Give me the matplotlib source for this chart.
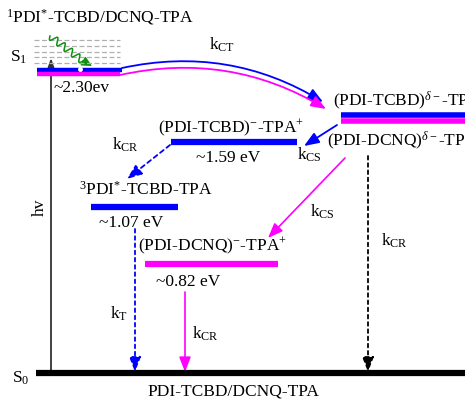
import numpy as np
import matplotlib
matplotlib.use('Agg')
import matplotlib.pyplot as plt
from matplotlib.patches import FancyArrowPatch

plt.rcParams['font.family'] = ['Liberation Serif', 'DejaVu Serif']
plt.rcParams['mathtext.fontset'] = 'custom'
plt.rcParams['mathtext.rm'] = 'Liberation Serif'
plt.rcParams['mathtext.it'] = 'Liberation Serif:italic'

# energies of the states (eV) and their labels
energies = ['~2.30ev', '~1.59 eV', '~1.07 eV', '~0.82 eV']
states = [r'$\mathrm{^{1}PDI^{*}}$-TCBD/DCNQ-TPA',
          r'(PDI-TCBD)$^{-}$-TPA$^{+}$',
          r'$\mathrm{^{3}PDI^{*}}$-TCBD-TPA',
          r'(PDI-DCNQ)$^{-}$-TPA$^{+}$']
cs_states = [r'(PDI-TCBD)$^{\delta-}$-TPA', r'(PDI-DCNQ)$^{\delta-}$-TPA']
ground = 'PDI-TCBD/DCNQ-TPA'

BLUE = '#0000ff'
MAG = '#ff00ff'
FS = 12.5

fig = plt.figure(figsize=(4.65, 3.99), dpi=100)
ax = fig.add_axes([0, 0, 1, 1])
ax.set_xlim(0, 465)
ax.set_ylim(399, 0)
ax.axis('off')


def arrow(p0, p1, color, ls='-', rad=0.0, lw=1.2, hl=9, hw=3.5):
    a = FancyArrowPatch(p0, p1, arrowstyle=f'-|>,head_length={hl},head_width={hw}',
                        connectionstyle=f'arc3,rad={rad}', color=color, lw=lw,
                        linestyle=ls, mutation_scale=1, shrinkA=0, shrinkB=0)
    ax.add_patch(a)


# ground state
ax.hlines(373, 36, 465, color='black', lw=4.5)
ax.text(12, 378, r'S$_0$', fontsize=FS, va='center')
ax.text(233, 391, ground, fontsize=FS, ha='center', va='center')

# S1 with vibrational levels
for y in [40, 46, 52, 57, 63]:
    ax.hlines(y, 34, 120, color='#b0b0b0', lw=0.9, linestyles=(0, (4, 2)))
ax.hlines(69.5, 37, 122, color=BLUE, lw=3.2)
ax.hlines(74, 37, 120, color=MAG, lw=3.2)
ax.plot(80, 68.5, 'o', color='white', ms=3.5, mew=0)
ax.text(10, 57, r'S$_1$', fontsize=FS, va='center')
ax.text(6, 17, states[0], fontsize=FS, va='center')
ax.text(54, 88, energies[0], fontsize=FS, va='center')

# hv excitation
arrow((51, 372), (51, 58), '#333333', lw=1.3, hl=10, hw=3.5)
ax.text(40, 207, 'hv', fontsize=FS, rotation=90, ha='center', va='center')

# green wavy relaxation
t = np.linspace(0, 1, 200)
x0, y0, x1, y1 = 50, 36, 83, 61
dx, dy = x1 - x0, y1 - y0
L = np.hypot(dx, dy)
nx, ny = -dy / L, dx / L
w = 3.5 * np.sin(t * 2 * np.pi * 4.5)
ax.plot(x0 + dx * t + nx * w, y0 + dy * t + ny * w, color='#109010', lw=1.1)
arrow((x1, y1), (92, 66), '#109010', lw=1.0, hl=6, hw=3)

# k_CT curved arrows
arrow((122, 68), (323, 102), BLUE, rad=-0.2, lw=1.3)
arrow((120, 75), (326, 109), MAG, rad=-0.2, lw=1.3)
ax.text(222, 45, r'k$_{\rm CT}$', fontsize=FS, ha='center', va='center')

# charge-separated levels
ax.hlines(115, 341, 465, color=BLUE, lw=4)
ax.hlines(121, 341, 465, color=MAG, lw=4)
ax.text(333, 101, cs_states[0], fontsize=FS, va='center')
ax.text(327, 141, cs_states[1], fontsize=FS, va='center')

# (PDI-TCBD)- level
arrow((337, 125), (304, 146), BLUE, lw=1.3)
ax.text(297, 155, r'k$_{\rm CS}$', fontsize=FS, va='center')
ax.hlines(142, 171, 297, color=BLUE, lw=4.5)
ax.text(231, 128, states[1], fontsize=FS, ha='center', va='center')
ax.text(228, 158, energies[1], fontsize=FS, ha='center', va='center')

# to triplet
arrow((170, 145), (127, 179), BLUE, ls=(0, (2.5, 2)), lw=1.3)
ax.text(112, 145, r'k$_{\rm CR}$', fontsize=FS, va='center')
ax.hlines(207, 91, 178, color=BLUE, lw=4.5)
ax.text(146, 190, states[2], fontsize=FS, ha='center', va='center')
ax.text(131, 223, energies[2], fontsize=FS, ha='center', va='center')

# triplet decay
arrow((135, 229), (135, 372), BLUE, ls=(0, (2, 2)), lw=1.3)
ax.text(110, 314, r'k$_{\rm T}$', fontsize=FS, va='center')

# (PDI-DCNQ)- level
arrow((345, 158), (268, 238), MAG, lw=1.2)
ax.text(310, 212, r'k$_{\rm CS}$', fontsize=FS, va='center')
ax.hlines(264, 145, 278, color=MAG, lw=4.5)
ax.text(213, 246, states[3], fontsize=FS, ha='center', va='center')
ax.text(188, 282, energies[3], fontsize=FS, ha='center', va='center')
arrow((185, 292), (185, 372), MAG, lw=1.2)
ax.text(192, 334, r'k$_{\rm CR}$', fontsize=FS, va='center')

# CS state recombination
arrow((368, 156), (368, 372), 'black', ls=(0, (2, 2)), lw=1.3)
ax.text(381, 241, r'k$_{\rm CR}$', fontsize=FS, va='center')

fig.savefig('out.png', dpi=100)
